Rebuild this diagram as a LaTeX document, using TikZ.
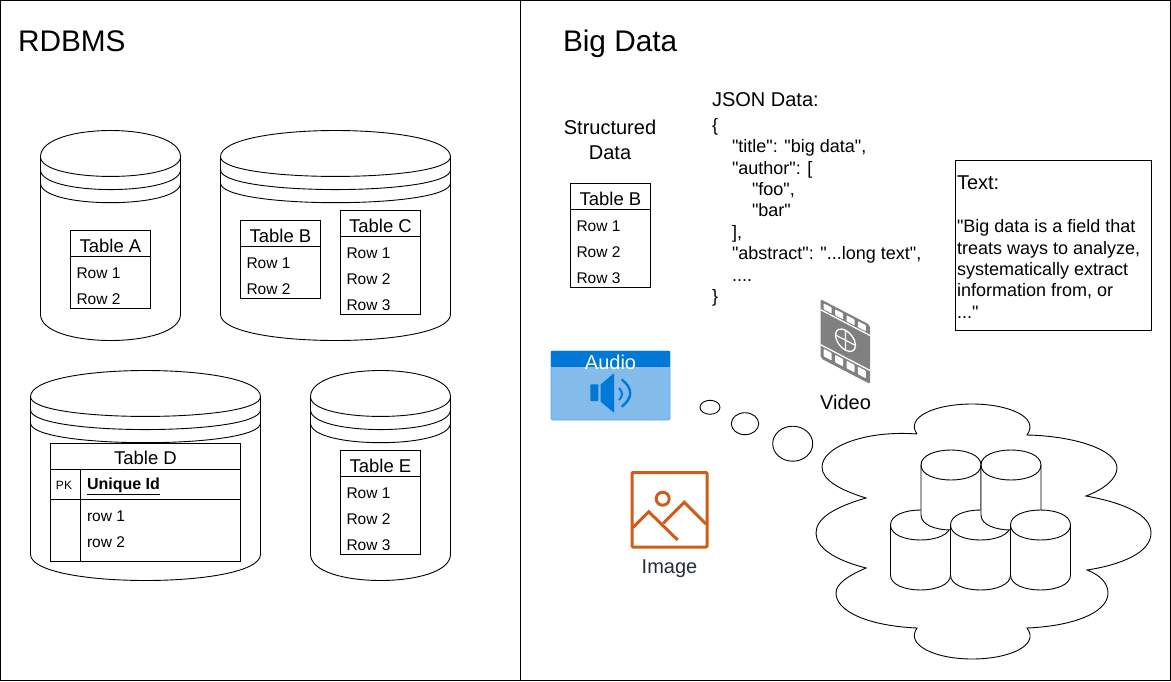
\documentclass[tikz,border=0pt]{standalone}
\usepackage{fontspec}
\setmainfont[Ligatures=TeXOff]{Liberation Sans}
\usetikzlibrary{positioning}
\definecolor{audiofill}{RGB}{131, 187, 234}
\definecolor{audioedge}{RGB}{90, 169, 230}
\definecolor{audiodark}{RGB}{0, 120, 215}
\definecolor{imageorange}{RGB}{208, 92, 23}
\definecolor{imagelabel}{RGB}{35, 47, 62}
\definecolor{filmgray}{RGB}{128, 128, 128}
\tikzset{
  plain/.style={inner sep=0pt, outer sep=0pt},
  headtext/.style={plain, font=\fontsize{29.8}{36}\selectfont, anchor=base west},
  bigtext/.style={plain, font=\fontsize{20}{24}\selectfont},
  bodytext/.style={plain, font=\fontsize{18}{21}\selectfont, anchor=base west},
  titletext/.style={plain, font=\fontsize{18.5}{21}\selectfont},
  rowtext/.style={plain, font=\fontsize{15.5}{19}\selectfont, anchor=west},
  tablebox/.style={plain, draw, fill=white, anchor=north west},
  store/.style={draw, fill=white, line width=0.9pt}
}
\begin{document}
\begin{tikzpicture}[x=1pt, y=-1pt, line width=0.9pt]
  \useasboundingbox (0,0) rectangle (1171,681);
  \draw (0.5,0.5) rectangle (1170.5,680.5);
  \draw (520.5,0) -- (520.5,681);
  \node[headtext] (rdbmshead) at (18,51) {RDBMS};
  \node[headtext] (bighead) at (563,51) {Big Data};
  % data stores
  \foreach \cx/\cy/\cw in {40.5/130.5/140, 220.5/130.5/230, 30.5/370.5/230, 310.5/370.5/140} {
    \draw[store] (\cx,\cy+26.25) .. controls (\cx,\cy-8.75) and (\cx+\cw,\cy-8.75) .. (\cx+\cw,\cy+26.25)
      -- (\cx+\cw,\cy+183.75) .. controls (\cx+\cw,\cy+218.75) and (\cx,\cy+218.75) .. (\cx,\cy+183.75) -- cycle;
    \foreach \k in {26.25, 39.375, 52.5} {
      \draw (\cx,\cy+\k) .. controls (\cx,\cy+\k+26.25) and (\cx+\cw,\cy+\k+26.25) .. (\cx+\cw,\cy+\k);
    }
  }
  % tables with a title and rows
  \foreach \tname/\tx/\ty/\tlabel/\trows in {tabA/70.5/230.5/Table A/2, tabB/240.5/220.5/Table B/2, tabC/340.5/210.5/Table C/3, tabE/340.5/450.5/Table E/3, tabS/570.5/183.5/Table B/3} {
    \node[tablebox, minimum width=80pt, minimum height={26pt+26pt*\trows}] (\tname) at (\tx,\ty) {};
    \draw (\tx,\ty+26) -- (\tx+80,\ty+26);
    \node[titletext] (\tname head) at (\tx+40,\ty+15) {\tlabel};
    \foreach \r in {1,...,\trows} {
      \node[rowtext] (\tname row\r) at (\tx+6,\ty+16.5+26*\r) {Row \r};
    }
  }
  % the table with a key
  \node[tablebox, minimum width=190pt, minimum height=118pt] (tabD) at (50.5,443.5) {};
  \draw (50.5,469.5) -- (240.5,469.5) (50.5,499.5) -- (240.5,499.5) (80.5,469.5) -- (80.5,561.5);
  \node[titletext] (tabDhead) at (145.5,458) {Table D};
  \node[plain, font=\fontsize{12}{14}\selectfont, anchor=west] (tabDpk) at (56,485) {PK};
  \node[plain, font=\fontsize{16}{19}\selectfont\bfseries, anchor=west] (tabDid) at (87,486) {\underline{Unique Id}};
  \node[rowtext] (tabDrow1) at (87,516) {row 1};
  \node[rowtext] (tabDrow2) at (87,542) {row 2};
  % big data side
  \node[bigtext, align=center] (structured) at (610,140) {Structured\\[1pt]Data};
  \node[bodytext, font=\fontsize{20}{24}\selectfont] (jsonhead) at (712,106) {JSON Data:};
  \node[bodytext] (jsonopen) at (712,131) {\{};
  \node[bodytext] (jsontitle) at (732,152.6) {"title": "big data",};
  \node[bodytext] (jsonauthor) at (732,174) {"author": [};
  \node[bodytext] (jsonfoo) at (752,195.4) {"foo",};
  \node[bodytext] (jsonbar) at (752,216.8) {"bar"};
  \node[bodytext] (jsonclose) at (732,238.2) {],};
  \node[bodytext] (jsonabstract) at (732,259.6) {"abstract": "...long text",};
  \node[bodytext] (jsondots) at (732,281) {....};
  \node[bodytext] (jsonend) at (712,302.4) {\}};
  \node[plain, draw, fill=white, anchor=north west, minimum width=196pt, minimum height=170pt] (textbox) at (955.5,160.5) {};
  \node[bodytext, font=\fontsize{20}{24}\selectfont] (texthead) at (957,189) {Text:};
  \node[bodytext] (textline1) at (957,232.6) {"Big data is a field that};
  \node[bodytext] (textline2) at (957,254) {treats ways to analyze,};
  \node[bodytext] (textline3) at (957,275.4) {systematically extract};
  \node[bodytext] (textline4) at (957,296.8) {information from, or};
  \node[bodytext] (textline5) at (957,318.2) {..."};
  % audio
  \draw[audioedge, fill=audiofill, rounded corners=1.5pt] (551,351) rectangle (670,420);
  \fill[audiodark] (551,351) rectangle (670,366.5);
  \node[bigtext, text=white] (audio) at (610.5,362.5) {Audio};
  \fill[audiodark, rounded corners=0.8pt] (590.3,384.3) rectangle (598.3,401);
  \fill[audiodark] (600.7,384.3) -- (614,373.3) -- (614,412.7) -- (600.7,401.7) -- cycle;
  \draw[audiodark, line width=2pt] (619,388) .. controls (623,392) and (623,396) .. (619,400);
  \draw[audiodark, line width=2.4pt] (621.7,379.5) .. controls (633,388) and (633,398) .. (621.7,406.7);
  % image
  \draw[imageorange, line width=3pt, rounded corners=1pt] (632,472.5) rectangle (707,547);
  \draw[imageorange, line width=3pt] (662.7,498.7) circle[radius=6.5];
  \draw[imageorange, line width=3pt] (633,527.5) -- (648.7,511.7) -- (677.7,540);
  \draw[imageorange, line width=3pt] (663.3,523.3) -- (684.3,502.3) -- (706,524);
  \node[bigtext, text=imagelabel, anchor=base] (image) at (669.5,573) {Image};
  % video
  \begin{scope}[shift={(820.7,299.3)}, yslant=-0.52]
    \fill[filmgray, rounded corners=2pt] (0,0) rectangle (49.3,59);
    \foreach \h in {0,1,2,3} {
      \fill[white, rounded corners=0.8pt] (3+11.4*\h,2.5) rectangle (11+11.4*\h,8.5);
      \fill[white, rounded corners=0.8pt] (3+11.4*\h,48) rectangle (11+11.4*\h,55.5);
    }
    \draw[white, line width=1.3pt] (0,10.5) -- (49.3,10.5) (0,45.5) -- (49.3,45.5);
    \draw[white, line width=1.3pt] (24.8,28) circle[radius=10];
    \draw[white, line width=1.2pt] (24.8,18) -- (24.8,38) (14.8,28) -- (34.8,28);
  \end{scope}
  \node[bigtext] (video) at (845.5,402.5) {Video};
  % thought bubbles and cloud
  \draw (710,407.3) ellipse[x radius=10, y radius=7];
  \draw (745,423.7) ellipse[x radius=13.7, y radius=11];
  \draw (792.7,443.7) ellipse[x radius=20, y radius=17.5];
  \draw (917,434) .. controls (905,417) and (935,404) .. (972,404) .. controls (1008,404) and (1040,417) .. (1027,435)
    .. controls (1075,436) and (1117,450) .. (1117,468) .. controls (1117,478) and (1105,489) .. (1086,496)
    .. controls (1125,503) and (1151,515) .. (1151,533) .. controls (1151,553) and (1120,565) .. (1087,570)
    .. controls (1100,575) and (1108,583) .. (1108,593) .. controls (1108,612) and (1075,626) .. (1027,628)
    .. controls (1040,645) and (1010,659) .. (972,659) .. controls (935,659) and (905,645) .. (917,628)
    .. controls (870,626) and (836,612) .. (836,593) .. controls (836,583) and (850,575) .. (866,568)
    .. controls (835,560) and (816,548) .. (816,533) .. controls (816,518) and (835,507) .. (866,498)
    .. controls (840,490) and (822,480) .. (822,467) .. controls (822,447) and (865,430) .. (917,434);
  % small cylinders, back to front
  \foreach \sx/\sy in {890.5/510, 921/450, 950.5/510, 981/450, 1010.5/510} {
    \draw[store] (\sx,\sy+15) .. controls (\sx,\sy-5) and (\sx+60,\sy-5) .. (\sx+60,\sy+15)
      -- (\sx+60,\sy+65) .. controls (\sx+60,\sy+85) and (\sx,\sy+85) .. (\sx,\sy+65) -- cycle;
    \draw (\sx,\sy+15) .. controls (\sx,\sy+35) and (\sx+60,\sy+35) .. (\sx+60,\sy+15);
  }
\end{tikzpicture}
\end{document}
